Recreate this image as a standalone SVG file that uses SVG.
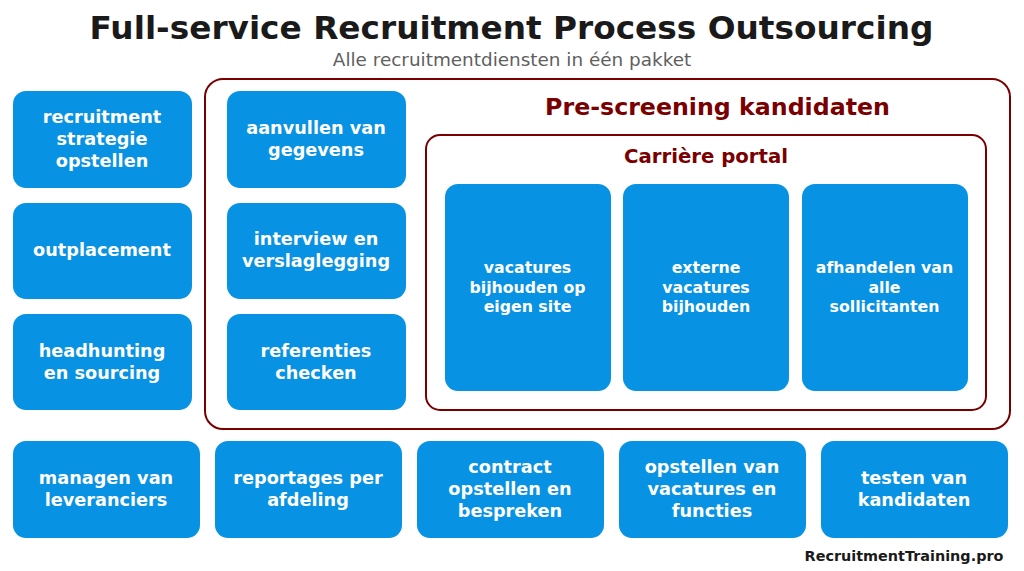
<svg xmlns="http://www.w3.org/2000/svg" width="1024" height="571" viewBox="0 0 1024 571">
<style>
text{font-family:"DejaVu Sans",sans-serif;text-anchor:middle}
.n rect{fill:#0792e3}
.n text{fill:#fff;font-weight:bold;font-size:17.7px}
.s text{font-size:15.75px}
.f{fill:#fff;stroke:#7a0000;stroke-width:2}
.h{fill:#7a0000;font-weight:bold}
</style>
<rect width="1024" height="571" fill="#fff"/>
<text x="511.5" y="39" font-size="32.75" font-weight="bold" fill="#1a1a1a">Full-service Recruitment Process Outsourcing</text>
<text x="512" y="66" font-size="18.4" fill="#5f5f5f">Alle recruitmentdiensten in één pakket</text>
<g id="frame-prescreening"><rect class="f" x="205" y="79" width="805" height="350" rx="18"/><text class="h" x="717.5" y="115" font-size="23.7">Pre-screening kandidaten</text></g>
<g id="frame-portal"><rect class="f" x="426" y="135" width="560" height="275" rx="14"/><text class="h" x="706" y="163" font-size="19.7">Carrière portal</text></g>
<g id="n1" class="n"><rect x="13" y="91" width="179" height="97" rx="13"/><text x="102" y="123">recruitment</text><text x="102" y="145">strategie</text><text x="102" y="167">opstellen</text></g>
<g id="n2" class="n"><rect x="13" y="203" width="179" height="96" rx="13"/><text x="102" y="256">outplacement</text></g>
<g id="n3" class="n"><rect x="13" y="314" width="179" height="96" rx="13"/><text x="102" y="356.500">headhunting</text><text x="102" y="379">en sourcing</text></g>
<g id="n4" class="n"><rect x="227" y="91" width="179" height="97" rx="13"/><text x="316" y="134">aanvullen van</text><text x="316" y="156">gegevens</text></g>
<g id="n5" class="n"><rect x="227" y="203" width="179" height="96" rx="13"/><text x="316" y="245">interview en</text><text x="316" y="267">verslaglegging</text></g>
<g id="n6" class="n"><rect x="227" y="314" width="179" height="96" rx="13"/><text x="316" y="356.500">referenties</text><text x="316" y="379">checken</text></g>
<g id="n7" class="n s"><rect x="445" y="184" width="166" height="207" rx="13"/><text x="527.500" y="273">vacatures</text><text x="527.500" y="293">bijhouden op</text><text x="527.500" y="312">eigen site</text></g>
<g id="n8" class="n s"><rect x="623" y="184" width="166" height="207" rx="13"/><text x="706" y="273">externe</text><text x="706" y="293">vacatures</text><text x="706" y="312">bijhouden</text></g>
<g id="n9" class="n s"><rect x="802" y="184" width="166" height="207" rx="13"/><text x="884.500" y="273">afhandelen van</text><text x="884.500" y="293">alle</text><text x="884.500" y="312">sollicitanten</text></g>
<g id="n10" class="n"><rect x="13" y="441" width="187" height="97" rx="13"/><text x="106" y="484">managen van</text><text x="106" y="506">leveranciers</text></g>
<g id="n11" class="n"><rect x="215" y="441" width="187" height="97" rx="13"/><text x="308" y="484">reportages per</text><text x="308" y="506">afdeling</text></g>
<g id="n12" class="n"><rect x="417" y="441" width="187" height="97" rx="13"/><text x="510" y="473">contract</text><text x="510" y="495">opstellen en</text><text x="510" y="517">bespreken</text></g>
<g id="n13" class="n"><rect x="619" y="441" width="187" height="97" rx="13"/><text x="712" y="473">opstellen van</text><text x="712" y="495">vacatures en</text><text x="712" y="517">functies</text></g>
<g id="n14" class="n"><rect x="821" y="441" width="187" height="97" rx="13"/><text x="914" y="484">testen van</text><text x="914" y="506">kandidaten</text></g>
<text x="904" y="561" font-size="14.4" font-weight="bold" fill="#1a1a1a">RecruitmentTraining.pro</text>
<g id="connectors"/>
</svg>
